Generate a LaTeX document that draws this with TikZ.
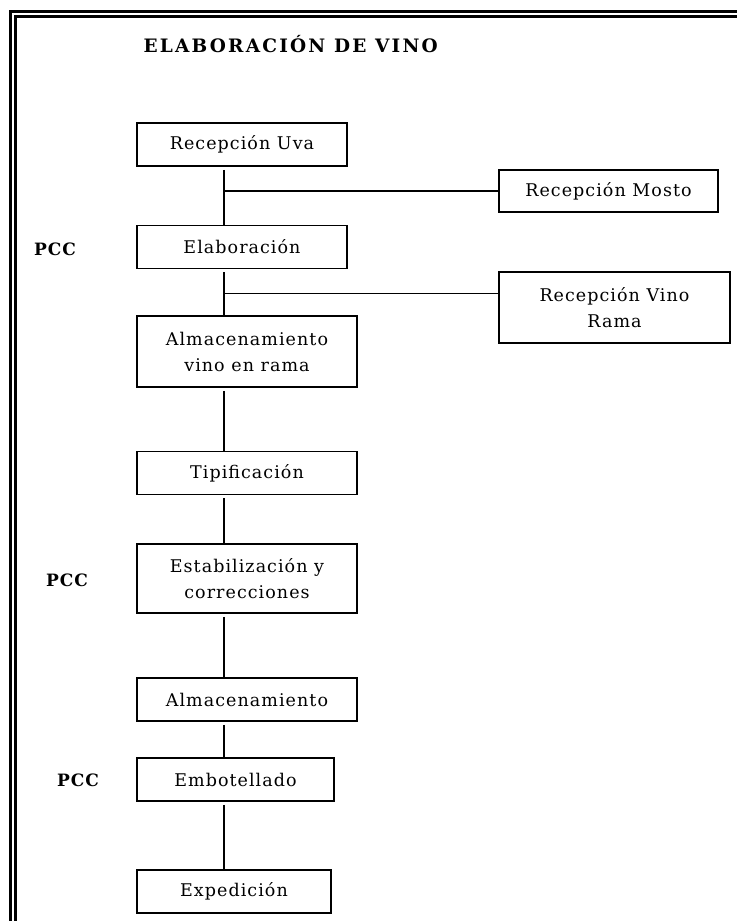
\documentclass[tikz,border=0pt]{standalone}
\usepackage{fontspec}
\setmainfont{DejaVu Serif}[LetterSpace=6]
\newfontfamily\titulofont{DejaVu Serif}[LetterSpace=12]
\usetikzlibrary{calc}

\begin{document}
\begin{tikzpicture}[x=1pt,y=-1pt,
    paso/.style={draw, line width=1.6pt, inner sep=0pt, align=center,
      minimum width=220, minimum height=43,
      font=\fontsize{17.5}{26}\selectfont},
    pcc/.style={font=\bfseries\fontsize{17}{18}\selectfont},
    enlace/.style={line width=1.5pt}]
  \useasboundingbox (0,0) rectangle (737,921);

  % marco doble (solo se ven los lados izquierdo y superior)
  \draw[line width=3.5pt] (10.5,921) -- (10.5,11.5) -- (737,11.5);
  \draw[line width=2.4pt] (15.5,921) -- (15.5,16.5) -- (737,16.5);

  \node[anchor=base west, font=\titulofont\bfseries\fontsize{18.5}{20}\selectfont] (titulo)
    at (140,52) {ELABORACIÓN DE VINO};

  % linea principal
  \node[paso, minimum width=210] (uva)   at (242,144.5) {Recepción Uva};
  \node[paso, minimum width=210] (elab)  at (242,247)   {Elaboración};
  \node[paso, minimum height=71] (almrama) at (247,351.5) {Almacenamiento\\vino en rama};
  \node[paso] (tipif) at (247,473) {Tipificación};
  \node[paso, minimum height=69] (estab) at (247,578.5) {Estabilización y\\correcciones};
  \node[paso] (alm)   at (247,699.5) {Almacenamiento};
  \node[paso, minimum width=197] (embot) at (235.5,779.5) {Embotellado};
  \node[paso, minimum width=194] (exped) at (234,891.5) {Expedición};

  % entradas laterales
  \node[paso, minimum width=219, minimum height=42] (mosto) at (608.5,191) {Recepción Mosto};
  \node[paso, minimum width=231, minimum height=71] (rama)  at (614.5,307.5) {Recepción Vino\\Rama};

  \node[pcc] (pcc1) at (55,249) {PCC};
  \node[pcc] (pcc2) at (67,580) {PCC};
  \node[pcc] (pcc3) at (78,780) {PCC};

  \coordinate (eje) at (224,0);
  \foreach \a/\b in {uva/elab, elab/almrama, almrama/tipif, tipif/estab,
                     estab/alm, alm/embot, embot/exped}
    \draw[enlace, shorten <=3pt] (\a.south -| eje) -- (\b.north -| eje);

  \draw[enlace] (mosto.west) -- (mosto.west -| eje);
  \coordinate (union) at (224,293.5);
  \draw[enlace] (union) -- (union -| rama.west);
\end{tikzpicture}
\end{document}
